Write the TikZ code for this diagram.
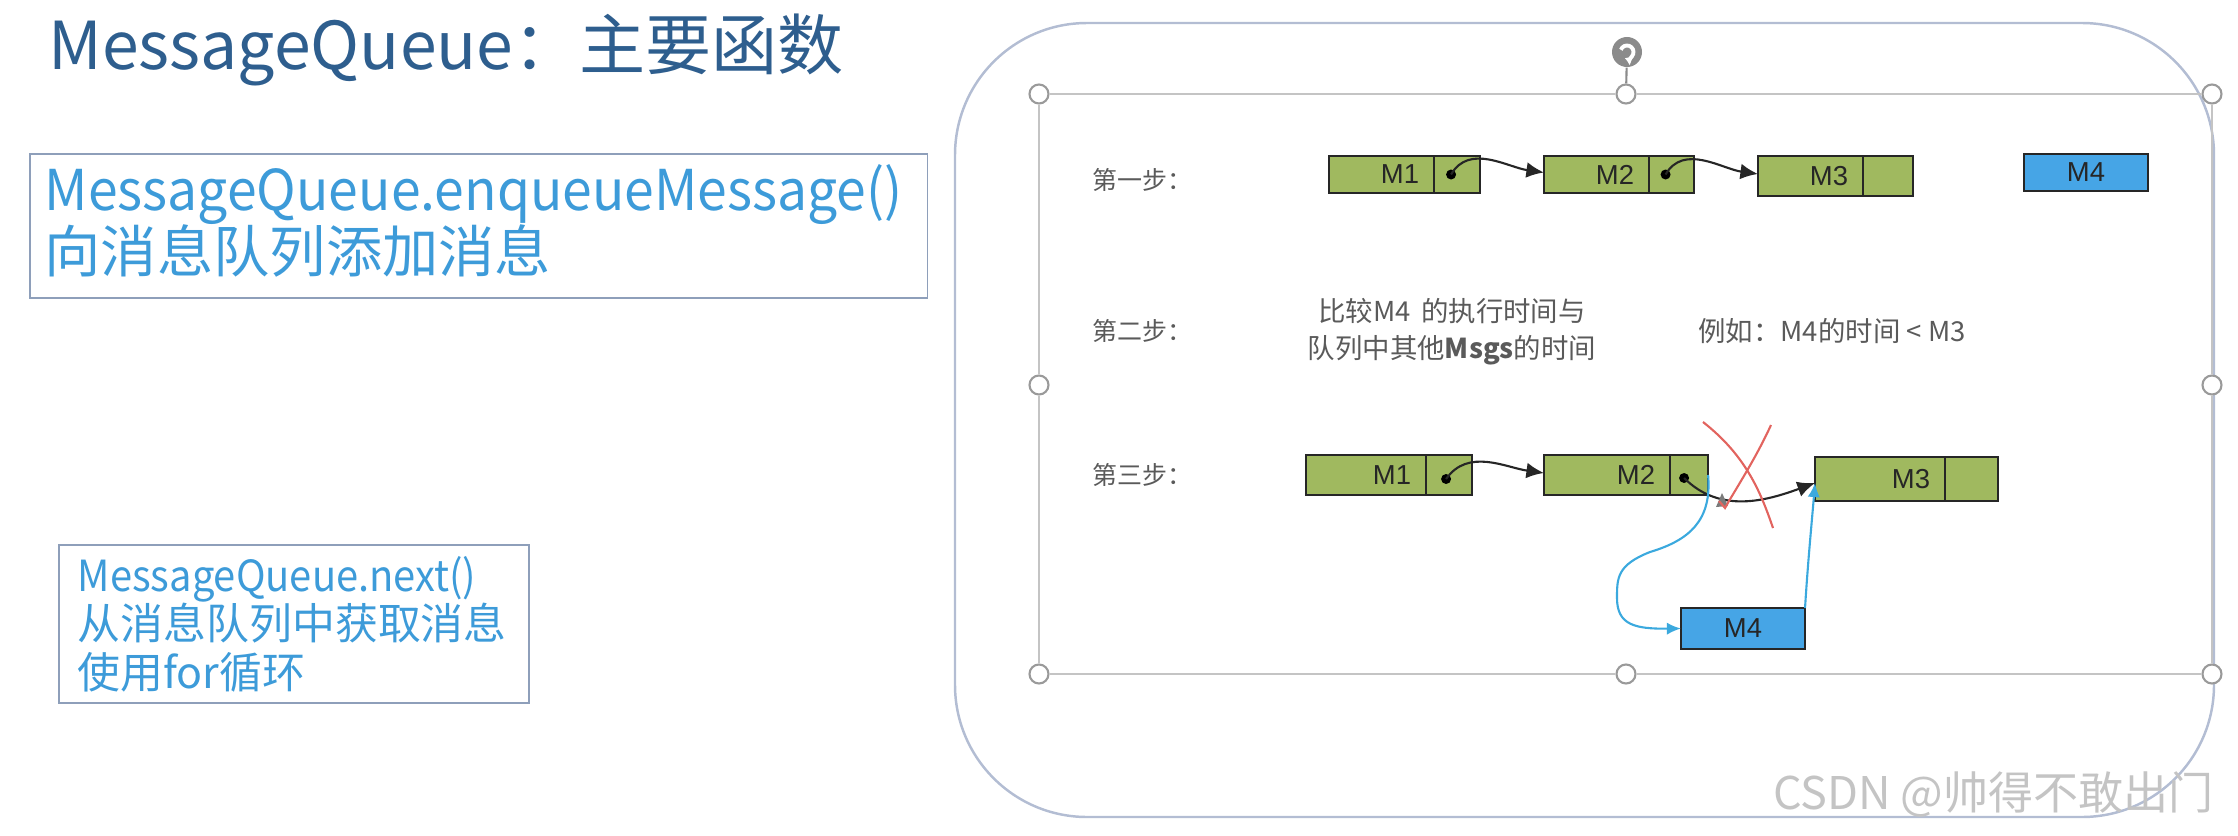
\documentclass[tikz,border=0pt]{standalone}
\usepackage{fontspec}
\setmainfont{Noto Sans CJK SC}
\newfontfamily\mqsans{Liberation Sans}
\newfontfamily\mqnarrow{Noto Sans CJK SC}[FakeStretch=0.95]
\newfontfamily\mqtight{Noto Sans CJK SC}[FakeStretch=0.93]
\usetikzlibrary{arrows.meta}
\usetikzlibrary{positioning}
\definecolor{mqtitle}{HTML}{2E5E8E}
\definecolor{mqtext}{HTML}{3D9BD9}
\definecolor{mqframe}{HTML}{8E9FBA}
\definecolor{mqpanel}{HTML}{B3BDD3}
\definecolor{mqgreen}{HTML}{A0B95F}
\definecolor{mqblue}{HTML}{46A5E6}
\definecolor{mqink}{HTML}{262626}
\definecolor{mqmuted}{HTML}{5A5A5A}
\definecolor{mqlink}{HTML}{3BA9DE}
\definecolor{mqred}{HTML}{E2645F}
\definecolor{mqhandle}{HTML}{9A9A9A}
\definecolor{mqmark}{HTML}{C4C4C4}
\tikzset{
  mqapi/.style={draw=mqframe, line width=0.5pt, inner sep=0pt},
  mqapitext/.style={anchor=west, align=left, text=mqtext, inner sep=0pt},
  mqbody/.style={
    draw=mqink, fill=mqgreen, line width=0.7pt, outer sep=0pt,
    inner xsep=0.15cm, inner ysep=0pt, align=right, anchor=west,
    font=\mqsans\fontsize{7.8}{9}\selectfont, text=mqink},
  mqcell/.style={
    draw=mqink, fill=mqgreen, line width=0.7pt, outer sep=0pt,
    inner sep=0pt, anchor=west},
  mqnew/.style={
    draw=mqink, fill=mqblue, line width=0.7pt, outer sep=0pt,
    inner sep=0pt, minimum width=1.24cm,
    font=\mqsans\fontsize{7.8}{9}\selectfont, text=mqink},
  mqdot/.style={circle, fill=black, inner sep=0pt, minimum size=0.1cm},
  mqarrow/.style={-{Latex[length=5pt, width=4.5pt]}, draw=mqink, line width=0.6pt},
  mqbluearrow/.style={-{Latex[length=4pt, width=3.5pt]}, draw=mqlink, line width=0.6pt},
  mqstep/.style={anchor=west, font=\fontsize{7.1}{8}\selectfont, text=mqmuted},
  mqnote/.style={font=\fontsize{7.8}{10.5}\selectfont, text=mqmuted},
}

\begin{document}
\begin{tikzpicture}[x=0.01cm, y=-0.01cm,
  mqgrip/.style={circle, draw=mqhandle, fill=white, line width=0.6pt,
    minimum size=0.19cm, inner sep=0pt},
  mqsel/.style={draw=mqmark, line width=0.5pt}]

\useasboundingbox (0,0) rectangle (2238,836);

% Header.
\node[anchor=base west, font=\fontsize{18.8}{22}\selectfont, text=mqtitle]
  (title) at (36,69) {MessageQueue：主要函数};

% ------------------------------------------------------------ api boxes
\node[mqapi, anchor=north west, minimum width=8.97cm, minimum height=1.44cm]
  (enqbox) at (29,153) {};
\node[mqapitext, font=\fontsize{16}{17.6}\selectfont]
  (enqtext) at ([xshift=0.15cm, yshift=0.05cm]enqbox.west)
  {{\mqnarrow MessageQueue.enqueueMessage()}\\向消息队列添加消息};
\node[mqapi, anchor=north west, minimum width=4.70cm, minimum height=1.58cm]
  (nextbox) at (58,544) {};
\node[mqapitext, font=\fontsize{12.2}{13.8}\selectfont]
  (nexttext) at ([xshift=0.19cm]nextbox.west)
  {{\mqtight MessageQueue.next()}\\从消息队列中获取消息\\使用for循环};

% ---------------------------------------------------------- slide panel
\draw[mqpanel, line width=0.7pt, rounded corners=1.32cm]
  (955,23) rectangle (2214,817);
\foreach \gx/\gy/\gn in {1039/94/nw, 1626/94/n, 2212/94/ne, 2212/385/e,
    2212/674/se, 1626/674/s, 1039/674/sw, 1039/385/w} {
  \node[mqgrip] (grip\gn) at (\gx,\gy) {};
}
\draw[mqsel] (gripnw) -- (gripn) -- (gripne) -- (gripe) -- (gripse)
  -- (grips) -- (gripsw) -- (gripw) -- (gripnw);
\node[circle, fill=mqhandle!90!black, minimum size=0.3cm, inner sep=0pt]
  (griprot) at (1627,52) {};
\draw[white, line width=1.1pt, -{Latex[length=2pt, width=3pt]}]
  ([shift={(160:0.065cm)}]griprot.center)
  arc[start angle=160, end angle=-110, radius=0.065cm];
\draw[mqhandle!90!black, line width=0.6pt] (griprot) -- (gripn);

% ------------------------------------------------------------- step one
\node[mqstep] (step1) at (1080,180) {第一步：};
\node[mqbody, text width=0.75cm, minimum height=0.37cm] (s1m1) at (1329,174.5) {M1};
\node[mqcell, minimum width=0.46cm, minimum height=0.37cm] (s1m1p) at (s1m1.east) {};
\node[mqbody, text width=0.75cm, minimum height=0.37cm] (s1m2) at (1544,174.5) {M2};
\node[mqcell, minimum width=0.45cm, minimum height=0.37cm] (s1m2p) at (s1m2.east) {};
\node[mqbody, text width=0.75cm, minimum height=0.40cm] (s1m3) at (1758,176) {M3};
\node[mqcell, minimum width=0.50cm, minimum height=0.40cm] (s1m3p) at (s1m3.east) {};
\node[mqnew, minimum height=0.37cm] (s1m4) at (2086,172.5) {M4};
\node[mqdot] (s1d1) at ([xshift=-0.06cm]s1m1p.center) {};
\node[mqdot] (s1d2) at ([xshift=-0.06cm]s1m2p.center) {};
\draw[mqarrow] (s1d1.center) to[out=60, in=172] ([yshift=0.02cm]s1m2.west);
\draw[mqarrow] (s1d2.center) to[out=60, in=172] ([yshift=0.02cm]s1m3.west);

% ------------------------------------------------------------- step two
\node[mqstep] (step2) at (1080,331) {第二步：};
\node[mqnote, align=center] (cmpnote) at (1452,332)
  {比较M4 \,的执行时间与\\队列中其他{\bfseries Msgs}的时间};
\node[mqnote, anchor=west] (egnote) at (1686,331) {例如：M4的时间 < M3};

% ----------------------------------------------------------- step three
\node[mqstep] (step3) at (1080,475) {第三步：};
\node[mqbody, text width=0.90cm, minimum height=0.40cm] (s3m1) at (1306,475) {M1};
\node[mqcell, minimum width=0.46cm, minimum height=0.40cm] (s3m1p) at (s3m1.east) {};
\node[mqbody, text width=0.96cm, minimum height=0.40cm] (s3m2) at (1544,475) {M2};
\node[mqcell, minimum width=0.38cm, minimum height=0.40cm] (s3m2p) at (s3m2.east) {};
\node[mqbody, text width=1.00cm, minimum height=0.44cm] (s3m3) at (1815,479) {M3};
\node[mqcell, minimum width=0.53cm, minimum height=0.44cm] (s3m3p) at (s3m3.east) {};
\node[mqnew, minimum height=0.41cm] (s3m4) at (1743,628.5) {M4};
\node[mqdot] (s3d1) at ([xshift=-0.03cm, yshift=-0.04cm]s3m1p.center) {};
\node[mqdot] (s3d2) at ([xshift=-0.05cm, yshift=-0.03cm]s3m2p.center) {};
\draw[mqarrow] (s3d1.center) to[out=55, in=172] ([yshift=0.02cm]s3m2.west);
\draw[mqarrow] (s3d2.center) to[out=-45, in=200] ([yshift=-0.04cm]s3m3.west);
\draw[mqbluearrow] (s3m2p.east) .. controls (1712,520) and (1690,540) .. (1650,552)
  .. controls (1617,565) and (1617,578) .. (1617,598)
  .. controls (1617,625) and (1635,629) .. (s3m4.west);
\draw[mqbluearrow] (s3m4.north east) .. controls (1808,560) and (1812,520)
  .. ([yshift=-0.04cm]s3m3.west);
\fill[mqhandle!80!black] (1722,493) -- (1716,507) -- (1728,506) -- cycle;
\draw[mqred, line width=0.6pt] (1703,422) .. controls (1745,455) and (1760,490) .. (1773,528);
\draw[mqred, line width=0.6pt] (1771,425) .. controls (1755,460) and (1735,490)
  .. (1725,508) -- (1719,501);

% Watermark.
\node[anchor=east, font=\fontsize{12.8}{15}\selectfont, text=mqmark]
  (mark) at (2226,794) {CSDN @帅得不敢出门};

\end{tikzpicture}
\end{document}
